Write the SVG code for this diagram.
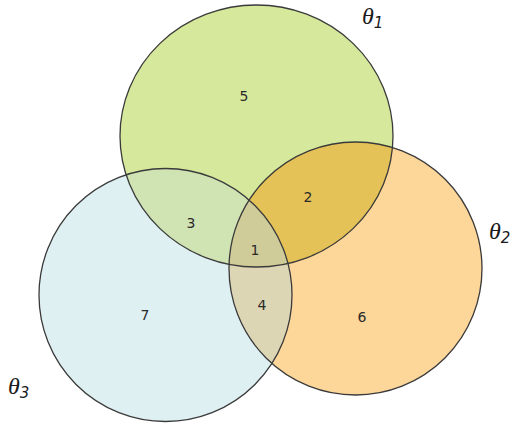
<svg xmlns="http://www.w3.org/2000/svg" width="514" height="427" viewBox="0 0 514 427">
<style>
.num{font-family:"DejaVu Sans",sans-serif;font-size:14px;fill:#2a2a2a;text-anchor:middle}
.th{font-family:"Liberation Serif",serif;font-style:italic;font-size:24px;fill:#1a1a1a}
.sub{font-family:"DejaVu Sans",sans-serif;font-size:15px;fill:#1a1a1a}
.edge{fill:none;stroke:#3a3a3a;stroke-width:1.3}
</style>
<defs>
<clipPath id="cG"><ellipse cx="256.5" cy="136" rx="136.5" ry="131"/></clipPath>
<clipPath id="cO"><circle cx="355.5" cy="268.5" r="126.5"/></clipPath>
<clipPath id="cB"><circle cx="165.5" cy="295" r="126.5"/></clipPath>
</defs>
<rect width="514" height="427" fill="#ffffff"/>
<g id="theta1">
<ellipse cx="256.5" cy="136" rx="136.5" ry="131" fill="#d5e89b"/>
</g>
<g id="theta2">
<circle cx="355.5" cy="268.5" r="126.5" fill="#fdd699"/>
</g>
<g id="theta3">
<circle cx="165.5" cy="295" r="126.5" fill="#dff0f3"/>
</g>
<g id="overlaps">
<g clip-path="url(#cG)"><circle cx="355.5" cy="268.5" r="126.5" fill="#e5c257"/></g>
<g clip-path="url(#cG)"><circle cx="165.5" cy="295" r="126.5" fill="#cfe3b3"/></g>
<g clip-path="url(#cO)"><circle cx="165.5" cy="295" r="126.5" fill="#ddd6b5"/></g>
<g clip-path="url(#cG)"><g clip-path="url(#cO)"><circle cx="165.5" cy="295" r="126.5" fill="#d0cc99"/></g></g>
</g>
<g id="outlines">
<ellipse class="edge" cx="256.5" cy="136" rx="136.5" ry="131"/>
<circle class="edge" cx="355.5" cy="268.5" r="126.5"/>
<circle class="edge" cx="165.5" cy="295" r="126.5"/>
</g>
<g id="labels">
<text class="num" x="244" y="101">5</text>
<text class="num" x="308" y="202">2</text>
<text class="num" x="191" y="228">3</text>
<text class="num" x="255" y="255">1</text>
<text class="num" x="262" y="310">4</text>
<text class="num" x="145" y="320">7</text>
<text class="num" x="362" y="322">6</text>
<text class="th" x="362" y="24">θ<tspan class="sub" dy="4">1</tspan></text>
<text class="th" x="489" y="239">θ<tspan class="sub" dy="4">2</tspan></text>
<text class="th" x="8" y="394">θ<tspan class="sub" dy="4">3</tspan></text>
</g>
</svg>
